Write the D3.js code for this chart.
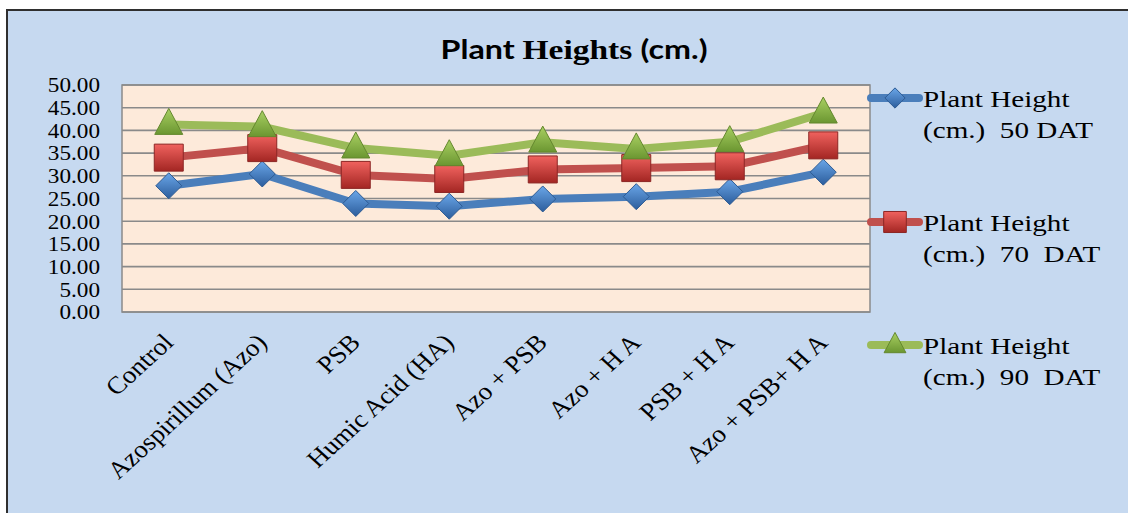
<!DOCTYPE html>
<html>
<head>
<meta charset="utf-8">
<script src="https://cdn.jsdelivr.net/npm/d3@7"></script>
<style>
  html, body { margin: 0; padding: 0; background: #ffffff; }
  svg { display: block; }
  text { white-space: pre; }
</style>
</head>
<body>
<svg id="chart" width="1128" height="513"></svg>
<script>
// Treatments on the x axis
const categories = ["Control", "Azospirillum (Azo)", "PSB", "Humic Acid (HA)",
                    "Azo + PSB", "Azo + H A", "PSB + H A", "Azo + PSB+ H A"];

// Plant height (cm) at 50, 70 and 90 days after transplanting
const height50 = [27.8, 30.4, 23.9, 23.3, 24.9, 25.4, 26.5, 30.8];
const height70 = [34.0, 36.1, 30.2, 29.3, 31.4, 31.7, 32.1, 36.7];
const height90 = [41.3, 40.8, 36.1, 34.4, 37.4, 35.9, 37.5, 43.8];

const seriesNames = ["Plant Height\n(cm.)  50 DAT", "Plant Height\n(cm.)  70  DAT", "Plant Height\n(cm.)  90  DAT"];
const yTicks = [0, 5, 10, 15, 20, 25, 30, 35, 40, 45, 50];

const svg = d3.select("#chart");
const W = 1128, H = 513;
const plot = { left: 122, right: 870, top: 85, bottom: 312 };
const serif = "'Liberation Serif', 'Times New Roman', serif";
const sans = "Lato, 'Open Sans', sans-serif";
const stretch = 1.16;

// Chart area background and frame
svg.append("rect").attr("x", 7).attr("y", 10).attr("width", W + 20).attr("height", H + 20)
  .attr("fill", "#c6d9f0").attr("stroke", "#2f2f2f").attr("stroke-width", 2);

const x = d3.scaleBand().domain(categories).range([plot.left, plot.right]);
const y = d3.scaleLinear().domain([0, 50]).range([plot.bottom, plot.top]);
const cx = d => x(d) + x.bandwidth() / 2;

// Plot area
svg.append("rect").attr("x", plot.left).attr("y", plot.top)
  .attr("width", plot.right - plot.left).attr("height", plot.bottom - plot.top)
  .attr("fill", "#fdeada").attr("stroke", "#8a8a8a").attr("stroke-width", 1.5);

svg.append("g").selectAll("line").data(yTicks).join("line")
  .attr("x1", plot.left).attr("x2", plot.right)
  .attr("y1", d => y(d)).attr("y2", d => y(d))
  .attr("stroke", "#8a8a8a").attr("stroke-width", 1.6);

// Y axis labels
const yAxis = svg.append("g").attr("transform", `translate(${plot.left},0)`)
  .call(d3.axisLeft(y).tickValues(yTicks).tickFormat(d3.format(".2f")).tickSize(0));
yAxis.select(".domain").remove();
yAxis.selectAll("text")
  .attr("x", -22 / stretch).attr("dy", "0.34em")
  .attr("transform", `scale(${stretch},1)`)
  .style("font-family", serif).attr("font-size", 20).attr("fill", "#000");

// X axis labels, rotated
const xAxis = svg.append("g").attr("transform", `translate(0,${plot.bottom})`)
  .call(d3.axisBottom(x).tickSize(0));
xAxis.select(".domain").remove();
xAxis.selectAll("text")
  .attr("x", 0).attr("y", 0).attr("dy", 0)
  .attr("text-anchor", "end")
  .attr("transform", "translate(6,32) scale(1.1,1) rotate(-45)")
  .style("font-family", serif).attr("font-size", 24.5).attr("fill", "#000");

// Gradients for bevelled markers
const defs = svg.append("defs");
function grad(id, top, bottom) {
  const g = defs.append("linearGradient").attr("id", id).attr("x1", 0).attr("y1", 0).attr("x2", 0).attr("y2", 1);
  g.append("stop").attr("offset", "0%").attr("stop-color", top);
  g.append("stop").attr("offset", "100%").attr("stop-color", bottom);
}
grad("gBlue", "#6aa6e8", "#2c5d9c");
grad("gRed", "#f0625e", "#a32623");
grad("gGreen", "#a9d062", "#6b9631");

const series = [
  { values: height50, color: "#4a7ebb", shape: "diamond", fill: "url(#gBlue)", stroke: "#2d5b93" },
  { values: height70, color: "#c0504d", shape: "square", fill: "url(#gRed)", stroke: "#8c2624" },
  { values: height90, color: "#9bbb59", shape: "triangle", fill: "url(#gGreen)", stroke: "#64882e" }
];

function markerPath(shape, s) {
  if (shape === "diamond") {
    const w = 13 * s, h = 13 * s;
    return `M0,${-h}L${w},0L0,${h}L${-w},0Z`;
  }
  if (shape === "square") {
    const w = 14.5 * s, h = 13.5 * s;
    return `M${-w},${-h}H${w}V${h}H${-w}Z`;
  }
  const w = 14 * s, h = 26 * s;
  return `M0,${-h * 0.62}L${w},${h * 0.38}L${-w},${h * 0.38}Z`;
}

const line = d3.line().x((d, i) => cx(categories[i])).y(d => y(d));

series.forEach(s => {
  const g = svg.append("g");
  g.append("path").datum(s.values).attr("d", line)
    .attr("fill", "none").attr("stroke", s.color).attr("stroke-width", 8)
    .attr("stroke-linejoin", "round").attr("stroke-linecap", "round");
  g.selectAll("path.m").data(s.values).join("path").attr("class", "m")
    .attr("transform", (d, i) => `translate(${cx(categories[i])},${y(d)})`)
    .attr("d", markerPath(s.shape, 1))
    .attr("fill", s.fill).attr("stroke", s.stroke).attr("stroke-width", 1);
});

// Legend
const legendY = [98, 222, 345];
series.forEach((s, k) => {
  const g = svg.append("g").attr("transform", `translate(0,${legendY[k]})`);
  g.append("line").attr("x1", 871).attr("x2", 919).attr("y1", 0).attr("y2", 0)
    .attr("stroke", s.color).attr("stroke-width", 8).attr("stroke-linecap", "round");
  g.append("path").attr("transform", "translate(895,0)")
    .attr("d", markerPath(s.shape, 0.78))
    .attr("fill", s.fill).attr("stroke", s.stroke).attr("stroke-width", 1);
  const lines = seriesNames[k].split("\n");
  const t = g.append("text").attr("transform", `translate(923,0) scale(1.24,1)`)
    .style("font-family", serif).attr("font-size", 23.5).attr("fill", "#000");
  lines.forEach((ln, j) => {
    t.append("tspan").attr("x", 0).attr("y", 9 + j * 31).text(ln);
  });
});

// Title: mixed sans / serif bold runs
const title = svg.append("text").attr("transform", `translate(574,59) scale(1.24,1)`)
  .attr("text-anchor", "middle").attr("font-size", 26).attr("font-weight", "bold").attr("fill", "#000");
title.append("tspan").style("font-family", sans).text("Plant ");
title.append("tspan").style("font-family", serif).attr("font-size", 27).text("Heights ");
title.append("tspan").style("font-family", sans).text("(cm.)");
</script>
</body>
</html>
